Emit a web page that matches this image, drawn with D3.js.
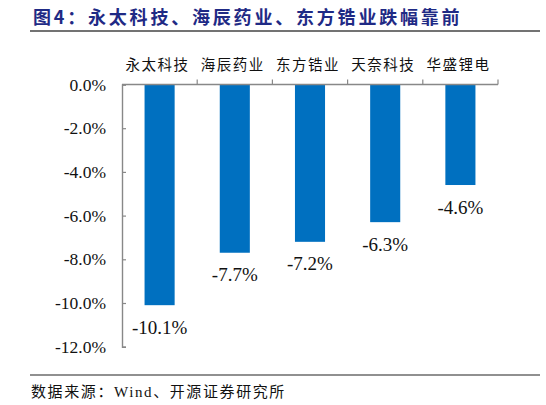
<!DOCTYPE html>
<html><head><meta charset="utf-8">
<script src="https://cdn.jsdelivr.net/npm/d3@7/dist/d3.min.js"></script>
<style>
html,body{margin:0;padding:0;background:#fff;}
svg{display:block;}
</style></head>
<body>
<svg id="chart" width="546" height="405"></svg>
<script>
const title = "图4：永太科技、海辰药业、东方锆业跌幅靠前";
const source = "数据来源：Wind、开源证券研究所";
const categories = ["永太科技","海辰药业","东方锆业","天奈科技","华盛锂电"];
const values = [-10.1, -7.7, -7.2, -6.3, -4.6];
const yTicks = [0, -2, -4, -6, -8, -10, -12];

const svg = d3.select("#chart");
const serif = "'Liberation Serif','Noto Sans CJK SC',serif";
const cjk = "'Noto Sans CJK SC',sans-serif";
const pct = d => d3.format(".1f")(d).replace("\u2212", "-") + "%";

// Title
svg.append("text").attr("x", 33).attr("y", 16)
  .attr("dominant-baseline", "central")
  .attr("font-family", cjk).attr("font-weight", "bold")
  .attr("font-size", 18).attr("letter-spacing", "2.8px")
  .attr("fill", "#1F2A85").text(title);
svg.append("line").attr("x1", 30).attr("x2", 540).attr("y1", 31).attr("y2", 31)
  .attr("stroke", "#444").attr("stroke-width", 1.3);

// Scales
const x = d3.scaleBand().domain(categories).range([122, 498]).padding(0);
const y = d3.scaleLinear().domain([-12, 0]).range([346.7, 84.5]);
const barW = x.bandwidth() * 0.4;

// Bars
svg.append("g").selectAll("rect").data(values).join("rect")
  .attr("x", (d, i) => x(categories[i]) + (x.bandwidth() - barW) / 2)
  .attr("y", y(0))
  .attr("width", barW)
  .attr("height", d => y(d) - y(0))
  .attr("fill", "#0070C0");

// Y axis
const yAxis = d3.axisLeft(y).tickValues(yTicks).tickSize(-4).tickPadding(16)
  .tickFormat(pct);
const gy = svg.append("g").attr("transform", "translate(122,0)").call(yAxis);
gy.select(".domain").attr("stroke", "#888").attr("stroke-width", 1.4);
gy.selectAll(".tick line").attr("stroke", "#888").attr("stroke-width", 1.2);
gy.selectAll(".tick text").attr("font-family", serif).attr("font-size", 17.5).attr("fill", "#111");

// Top category axis line with boundary ticks
svg.append("line").attr("x1", x.range()[0]).attr("x2", x.range()[1])
  .attr("y1", y(0)).attr("y2", y(0)).attr("stroke", "#888").attr("stroke-width", 1.4);
svg.append("g").selectAll("line").data(categories).join("line")
  .attr("x1", d => x(d) + x.step()).attr("x2", d => x(d) + x.step())
  .attr("y1", y(0)).attr("y2", y(0) - 5)
  .attr("stroke", "#888").attr("stroke-width", 1.2);

// Category labels
svg.append("g").selectAll("text").data(categories).join("text")
  .attr("x", d => x(d) + x.bandwidth() / 2 - 2)
  .attr("y", 63)
  .attr("text-anchor", "middle").attr("dominant-baseline", "central")
  .attr("font-family", cjk).attr("font-size", 14.5).attr("letter-spacing", "1.5px")
  .attr("fill", "#111").text(d => d);

// Value labels
svg.append("g").selectAll("text").data(values).join("text")
  .attr("x", (d, i) => x(categories[i]) + x.bandwidth() / 2)
  .attr("y", d => y(d) + 22)
  .attr("text-anchor", "middle").attr("dominant-baseline", "central")
  .attr("font-family", serif).attr("font-size", 19).attr("fill", "#111")
  .text(pct);

// Source
svg.append("line").attr("x1", 30).attr("x2", 540).attr("y1", 375).attr("y2", 375)
  .attr("stroke", "#222").attr("stroke-width", 1.2);
svg.append("text").attr("x", 31).attr("y", 392)
  .attr("dominant-baseline", "central")
  .attr("font-family", serif).attr("font-size", 15).attr("letter-spacing", "1.6px")
  .attr("fill", "#111").text(source);
</script>
</body></html>
